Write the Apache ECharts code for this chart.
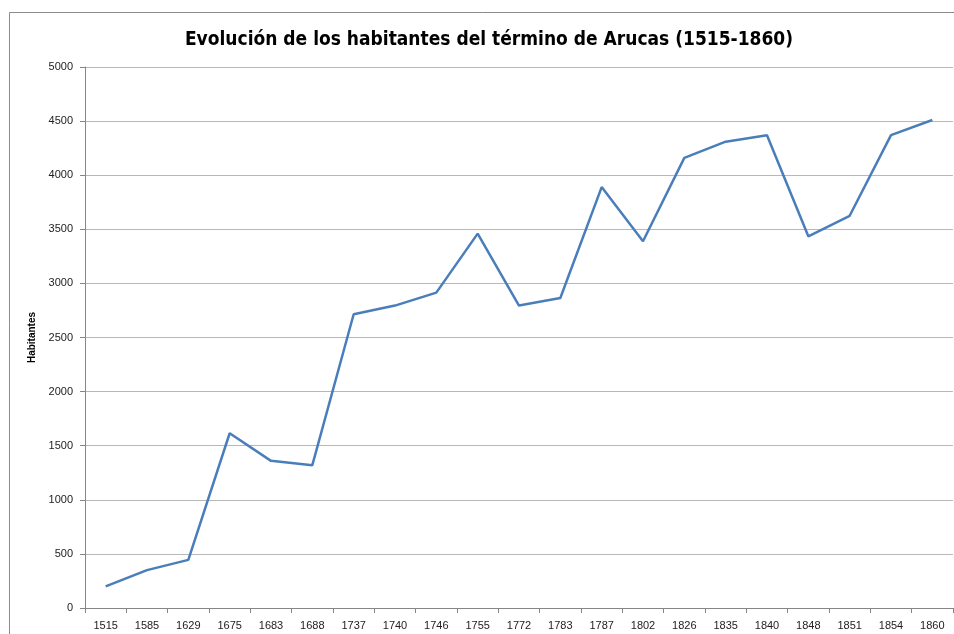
<!DOCTYPE html>
<html>
<head>
<meta charset="utf-8">
<script src="https://cdn.jsdelivr.net/npm/echarts@6/dist/echarts.min.js"></script>
<style>
  html, body { margin: 0; padding: 0; background: #fff; }
  #main { width: 954px; height: 634px; }
</style>
</head>
<body>
<div id="main"></div>
<script>
// años del censo
var years = ["1515", "1585", "1629", "1675", "1683", "1688", "1737", "1740", "1746", "1755",
  "1772", "1783", "1787", "1802", "1826", "1835", "1840", "1848", "1851", "1854", "1860"];
// habitantes
var habitantes = [200, 350, 445, 1615, 1360, 1320, 2715, 2795, 2915, 3460,
  2795, 2865, 3890, 3390, 4160, 4310, 4370, 3435, 3625, 4370, 4510];
var yTicks = { min: 0, max: 5000, step: 500 };

var myChart = echarts.init(document.getElementById("main"));

var option = {
  animation: false,
  title: {
    text: "Evolución de los habitantes del término de Arucas (1515-1860)",
    left: 484,
    textAlign: "center",
    top: 26,
    textStyle: {
      fontFamily: "Liberation Sans Narrow, DejaVu Sans Condensed, sans-serif",
      fontWeight: "bold",
      fontSize: 19,
      color: "#000",
    },
  },
  // marco exterior
  graphic: [
    {
      type: "rect",
      shape: { x: 9.5, y: 12.5, width: 980, height: 660 },
      style: { fill: "none", stroke: "#8c8c8c", lineWidth: 1 },
      silent: true,
    },
  ],
  grid: {
    left: 85,
    right: 1,
    top: 67,
    bottom: 26,
  },
  xAxis: {
    type: "category",
    data: years,
    boundaryGap: true,
    axisLine: { lineStyle: { color: "#868686", width: 1 } },
    axisTick: { show: true, length: 5, lineStyle: { color: "#868686" } },
    axisLabel: {
      color: "#222",
      fontFamily: "Liberation Sans, Arial, sans-serif",
      fontSize: 11,
      margin: 12,
      interval: 0,
    },
    splitLine: { show: false },
  },
  yAxis: {
    type: "value",
    min: yTicks.min,
    max: yTicks.max,
    interval: yTicks.step,
    name: "Habitantes",
    nameLocation: "middle",
    nameGap: 40,
    nameRotate: 90,
    nameTextStyle: {
      fontFamily: "Liberation Sans, Arial, sans-serif",
      fontWeight: "bold",
      fontSize: 10,
      color: "#000",
    },
    axisLine: { show: true, lineStyle: { color: "#868686", width: 1 } },
    axisTick: { show: true, length: 5, lineStyle: { color: "#868686" } },
    axisLabel: {
      color: "#222",
      fontFamily: "Liberation Sans, Arial, sans-serif",
      fontSize: 11,
      margin: 12,
      formatter: function (v) { return String(v); },
    },
    splitLine: { show: true, lineStyle: { color: "#b8b8b8", width: 1 } },
  },
  series: [
    {
      name: "Habitantes",
      type: "line",
      data: habitantes,
      showSymbol: false,
      symbol: "none",
      lineStyle: { color: "#4a7ebb", width: 2.5 },
      itemStyle: { color: "#4a7ebb" },
    },
  ],
};

myChart.setOption(option);
</script>
</body>
</html>
